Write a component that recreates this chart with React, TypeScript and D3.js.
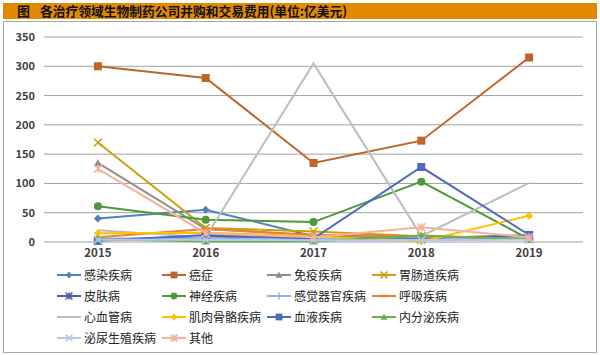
import React from "react";
import * as d3 from "d3";

const years = ["2015", "2016", "2017", "2018", "2019"];
const yTicks = [0, 50, 100, 150, 200, 250, 300, 350];

const names = ["感染疾病", "癌症", "免疫疾病", "胃肠道疾病", "皮肤病", "神经疾病", "感觉器官疾病", "呼吸疾病", "心血管病", "肌肉骨骼疾病", "血液疾病", "内分泌疾病", "泌尿生殖疾病", "其他"];

const infection = [40, 55, 10, 6, 12];
const cancer = [300, 280, 135, 173, 315];
const immune = [135, 22, 12, 10, 6];
const gastro = [170, 24, 18, 10, 5];
const skin = [3, 10, 4, 5, 10];
const neuro = [61, 38, 34, 103, 5];
const sensory = [6, 6, 5, 4, 8];
const respiratory = [8, 22, 12, 10, 5];
const cardio = [20, 8, 305, 10, 101];
const musculo = [15, 16, 10, 1, 45];
const blood = [2, 12, 6, 128, 12];
const endocrine = [5, 1, 1, 11, 5];
const urogenital = [4, 4, 3, 3, 4];
const other = [125, 15, 8, 25, 8];

const seriesValues = [infection, cancer, immune, gastro, skin, neuro, sensory, respiratory, cardio, musculo, blood, endocrine, urogenital, other];
const colors = ["#5580BE", "#C0652A", "#8E8E8E", "#C8A20A", "#4A5FA6", "#4E9A3A", "#8FB4E3", "#EE7F35", "#BDBDBD", "#FFC000", "#4F68C0", "#6AB04C", "#B4C8EA", "#F4B39A"];
const markers = ["diamond", "square", "triangle", "x", "star", "circle", "plus", "dash", "none", "diamond", "square", "triangle", "x", "star"];

function Marker({ type, x, y, color, s = 1 }: { type: string; x: number; y: number; color: string; s?: number }) {
  const r = 4 * s;
  switch (type) {
    case "diamond":
      return <path d={`M${x},${y - r}L${x + r},${y}L${x},${y + r}L${x - r},${y}Z`} fill={color} />;
    case "square":
      return <rect x={x - r} y={y - r} width={2 * r} height={2 * r} fill={color} />;
    case "triangle":
      return <path d={`M${x},${y - r}L${x + r},${y + r * 0.8}L${x - r},${y + r * 0.8}Z`} fill={color} />;
    case "circle":
      return <circle cx={x} cy={y} r={r} fill={color} />;
    case "x":
      return <path d={`M${x - r},${y - r}L${x + r},${y + r}M${x - r},${y + r}L${x + r},${y - r}`} stroke={color} strokeWidth={1.5} />;
    case "star":
      return <path d={`M${x - r},${y - r}L${x + r},${y + r}M${x - r},${y + r}L${x + r},${y - r}M${x},${y - r}L${x},${y + r}`} stroke={color} strokeWidth={1.5} />;
    case "plus":
      return <path d={`M${x - r},${y}L${x + r},${y}M${x},${y - r}L${x},${y + r}`} stroke={color} strokeWidth={1.5} />;
    case "dash":
      return <path d={`M${x - r},${y}L${x + r},${y}`} stroke={color} strokeWidth={2.5} />;
    default:
      return null;
  }
}

export default function App() {
  const W = 600, H = 355;
  const left = 44, right = 583, top = 37, bottom = 242;
  const x = d3.scalePoint<string>().domain(years).range([left, right]).padding(0.5);
  const y = d3.scaleLinear().domain([0, 350]).range([bottom, top]);
  const line = d3.line<number>().x((_, i) => x(years[i])!).y((d) => y(d));
  const font = "'Noto Sans CJK SC', 'Noto Sans', sans-serif";

  return (
    <svg width={W} height={H} style={{ position: "absolute", left: 0, top: 0, background: "#fff" }} fontFamily={font}>
      <rect x={3} y={3} width={594} height={16} fill="#E38A00" />
      <text x={17} y={16} fontSize={13} fill="#111" fontWeight="bold">图</text>
      <text x={40} y={16} fontSize={13} fill="#111" fontWeight="bold" textLength={307} lengthAdjust="spacingAndGlyphs">各治疗领域生物制药公司并购和交易费用(单位:亿美元)</text>
      <rect x={3.5} y={21.5} width={593} height={331} fill="none" stroke="#A6A6A6" strokeWidth={1} />

      {yTicks.map((t) => (
        <g key={t}>
          <line x1={left} x2={right} y1={y(t)} y2={y(t)} stroke="#A0A0A0" strokeWidth={1} />
          <text x={35} y={y(t) + 4} fontSize={11} textAnchor="end" fill="#404040" fontWeight="bold">{t}</text>
        </g>
      ))}
      {years.map((yr) => (
        <text key={yr} x={x(yr)} y={257} fontSize={11.5} textAnchor="middle" fill="#404040" fontWeight="bold">{yr}</text>
      ))}

      {seriesValues.map((vals, si) => (
        <g key={si}>
          <path d={line(vals)!} fill="none" stroke={colors[si]} strokeWidth={2} />
          {vals.map((v, i) => (
            <Marker key={i} type={markers[si]} x={x(years[i])!} y={y(v)} color={colors[si]} />
          ))}
        </g>
      ))}

      {names.map((n, i) => {
        const col = i % 4, row = Math.floor(i / 4);
        const lx = 57 + col * 105, ly = 275 + row * 21;
        return (
          <g key={n}>
            <line x1={lx} x2={lx + 24} y1={ly} y2={ly} stroke={colors[i]} strokeWidth={2} />
            <Marker type={markers[i]} x={lx + 12} y={ly} color={colors[i]} s={0.85} />
            <text x={lx + 27} y={ly + 4.5} fontSize={12} fill="#222">{n}</text>
          </g>
        );
      })}
    </svg>
  );
}
